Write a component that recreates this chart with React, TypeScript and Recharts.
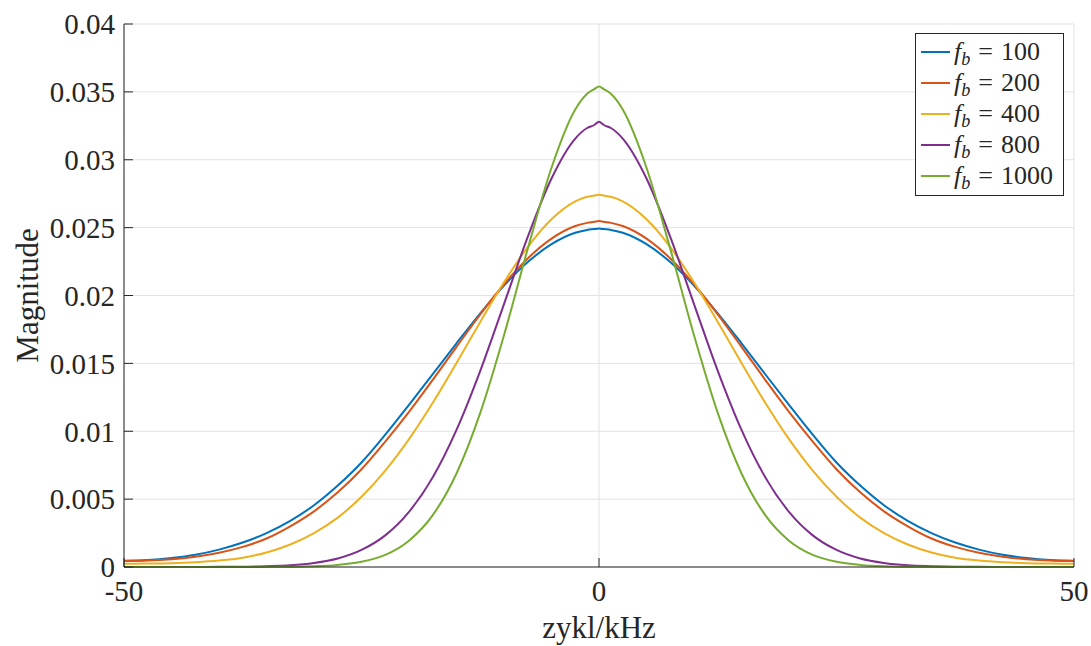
import React from "react";
import { LineChart, Line, XAxis, YAxis, CartesianGrid, Label } from "recharts";

// frequency axis (kHz) and the magnitude of each filter setting at those points
const freqs = [
  -50, -47.5, -45, -42.5, -40, -37.5, -35, -32.5, -30, -27.5, -25, -22.5, -20, -17.5, -15, -12.5, -10, -7.5, -5, -2.5,
  -1.25, -0.5, 0, 0.5, 1.25,
  2.5, 5, 7.5, 10, 12.5, 15, 17.5, 20, 22.5, 25, 27.5, 30, 32.5, 35, 37.5, 40, 42.5, 45, 47.5, 50,
];

const mag100 = [
  0.00046, 0.00051, 0.00066, 0.0009, 0.00128, 0.0018, 0.0025, 0.0034, 0.00455, 0.006, 0.0077, 0.00975, 0.01195, 0.0142, 0.01648, 0.01869, 0.02073, 0.02246, 0.02378, 0.02462,
  0.02483, 0.02489, 0.02493, 0.02489, 0.02483,
  0.02462, 0.02378, 0.02246, 0.02073, 0.01869, 0.01648, 0.0142, 0.01195, 0.00975, 0.0077, 0.006, 0.00455, 0.0034, 0.0025, 0.0018, 0.00128, 0.0009, 0.00066, 0.00051, 0.00046,
];
const mag200 = [
  0.00044, 0.00047, 0.00057, 0.00076, 0.00105, 0.00148, 0.0021, 0.003, 0.0041, 0.0055, 0.0072, 0.00924, 0.01143, 0.01379, 0.01622, 0.01861, 0.02083, 0.02273, 0.02419, 0.02512,
  0.02535, 0.02543, 0.02549, 0.02543, 0.02535,
  0.02512, 0.02419, 0.02273, 0.02083, 0.01861, 0.01622, 0.01379, 0.01143, 0.00924, 0.0072, 0.0055, 0.0041, 0.003, 0.0021, 0.00148, 0.00105, 0.00076, 0.00057, 0.00047, 0.00044,
];
const mag400 = [
  0.00024, 0.00025, 0.00028, 0.00035, 0.00047, 0.00068, 0.00107, 0.00166, 0.0025, 0.00364, 0.00517, 0.0071, 0.00942, 0.0121, 0.01503, 0.01805, 0.02097, 0.02357, 0.02561, 0.02693,
  0.02727, 0.02736, 0.02742, 0.02736, 0.02727,
  0.02693, 0.02561, 0.02357, 0.02097, 0.01805, 0.01503, 0.0121, 0.00942, 0.0071, 0.00517, 0.00364, 0.0025, 0.00166, 0.00107, 0.00068, 0.00047, 0.00035, 0.00028, 0.00025, 0.00024,
];
const mag800 = [
  0, 0, 0, 0, 0.00001, 0.00002, 0.00006, 0.00013, 0.0003, 0.00063, 0.00126, 0.00233, 0.00406, 0.00661, 0.0101, 0.01445, 0.01937, 0.02432, 0.02862, 0.03156,
  0.03234, 0.03256, 0.0328, 0.03256, 0.03234,
  0.03156, 0.02862, 0.02432, 0.01937, 0.01445, 0.0101, 0.00661, 0.00406, 0.00233, 0.00126, 0.00063, 0.0003, 0.00013, 0.00006, 0.00002, 0.00001, 0, 0, 0, 0,
];
const mag1000 = [
  0, 0, 0, 0, 0, 0, 0.00001, 0.00002, 0.00005, 0.00015, 0.00038, 0.00089, 0.00194, 0.00382, 0.00689, 0.01135, 0.01707, 0.02344, 0.02941, 0.0337,
  0.03486, 0.0352, 0.0354, 0.0352, 0.03486,
  0.0337, 0.02941, 0.02344, 0.01707, 0.01135, 0.00689, 0.00382, 0.00194, 0.00089, 0.00038, 0.00015, 0.00005, 0.00002, 0.00001, 0, 0, 0, 0, 0, 0,
];

const xTicks = [-50, 0, 50];
const yTicks = [0, 0.005, 0.01, 0.015, 0.02, 0.025, 0.03, 0.035, 0.04];

const series = [
  { key: "fb100", fb: 100, color: "#0072BD", values: mag100 },
  { key: "fb200", fb: 200, color: "#D95319", values: mag200 },
  { key: "fb400", fb: 400, color: "#EDB120", values: mag400 },
  { key: "fb800", fb: 800, color: "#7E2F8E", values: mag800 },
  { key: "fb1000", fb: 1000, color: "#77AC30", values: mag1000 },
];

const rows = freqs.map((f, i) => {
  const row: Record<string, number> = { f };
  series.forEach((s) => {
    row[s.key] = s.values[i];
  });
  return row;
});

const FONT = "'Liberation Serif', 'DejaVu Serif', serif";
const INK = "#262626";

function LegendBox() {
  return (
    <div
      style={{
        position: "absolute",
        left: 915,
        top: 33,
        width: 147,
        height: 159,
        border: `1px solid ${INK}`,
        background: "#fff",
        fontFamily: FONT,
        fontSize: 26,
        color: INK,
        paddingTop: 2,
        boxSizing: "content-box",
      }}
    >
      {series.map((s) => (
        <div key={s.key} style={{ height: 31, display: "flex", alignItems: "center" }}>
          <svg width={38} height={4} style={{ flex: "none" }}>
            <line x1={5} y1={2} x2={34} y2={2} stroke={s.color} strokeWidth={2} />
          </svg>
          <span style={{ whiteSpace: "nowrap", lineHeight: "31px" }}>
            <i>f</i>
            <sub style={{ fontSize: "0.7em", verticalAlign: "-0.3em", lineHeight: 0 }}>
              <i>b</i>
            </sub>
            <span style={{ margin: "0 8px 0 8px" }}>=</span>
            {s.fb}
          </span>
        </div>
      ))}
    </div>
  );
}

export default function App() {
  const tickStyle = { fontSize: 29, fill: INK, fontFamily: FONT };
  return (
    <div style={{ position: "absolute", left: 0, top: 0, width: 1091, height: 646, background: "#fff" }}>
      <LineChart width={1091} height={646} data={rows} margin={{ top: 24, right: 17, bottom: 0, left: 0 }}>
        <CartesianGrid stroke="#e2e2e2" strokeWidth={1} />
        <XAxis
          dataKey="f"
          type="number"
          domain={[-50, 50]}
          ticks={xTicks}
          height={79}
          tick={tickStyle}
          tickSize={-9}
          tickMargin={22}
          tickLine={{ stroke: INK }}
          axisLine={{ stroke: INK }}
        >
          <Label
            content={({ viewBox }: any) => (
              <text
                x={viewBox.x + viewBox.width / 2}
                y={638}
                textAnchor="middle"
                fontSize={31}
                fontFamily={FONT}
                fill={INK}
              >
                zykl/kHz
              </text>
            )}
          />
        </XAxis>
        <XAxis
          xAxisId="top"
          orientation="top"
          type="number"
          domain={[-50, 50]}
          ticks={xTicks}
          height={0}
          tick={false}
          tickSize={-9}
          tickLine={{ stroke: INK }}
          axisLine={{ stroke: INK }}
        />
        <YAxis
          type="number"
          domain={[0, 0.04]}
          ticks={yTicks}
          width={124}
          tick={tickStyle}
          tickSize={-9}
          tickMargin={18}
          tickLine={{ stroke: INK }}
          axisLine={{ stroke: INK }}
          tickFormatter={(v: number) => String(v)}
        >
          <Label
            content={({ viewBox }: any) => {
              const cx = 27;
              const cy = viewBox.y + viewBox.height / 2;
              return (
                <text
                  x={cx}
                  y={cy}
                  transform={`rotate(-90 ${cx} ${cy})`}
                  textAnchor="middle"
                  dominantBaseline="central"
                  fontSize={31}
                  fontFamily={FONT}
                  fill={INK}
                >
                  Magnitude
                </text>
              );
            }}
          />
        </YAxis>
        <YAxis
          yAxisId="right"
          orientation="right"
          type="number"
          domain={[0, 0.04]}
          ticks={yTicks}
          width={0}
          tick={false}
          tickSize={-9}
          tickLine={{ stroke: INK }}
          axisLine={{ stroke: INK }}
        />
        {series.map((s) => (
          <Line
            key={s.key}
            dataKey={s.key}
            type="monotone"
            stroke={s.color}
            strokeWidth={2}
            dot={false}
            activeDot={false}
            isAnimationActive={false}
          />
        ))}
      </LineChart>
      <LegendBox />
    </div>
  );
}
